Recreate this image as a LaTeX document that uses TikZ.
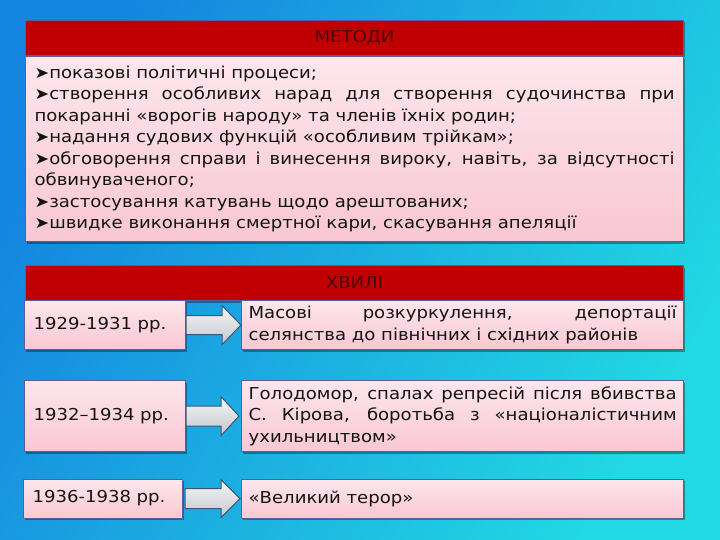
\documentclass[tikz,border=0pt]{standalone}
\usepackage{fontspec}
\setmainfont{DejaVu Sans}[FakeStretch=1.1]
\usetikzlibrary{shadows,calc}
\definecolor{bgA}{HTML}{1586E0}
\definecolor{bgB}{HTML}{22D8E2}
\definecolor{hdr}{HTML}{C00000}
\definecolor{hdrtxt}{HTML}{4A0808}
\definecolor{bordc}{HTML}{5A5E9E}
\definecolor{pinkA}{HTML}{FDE6EC}
\definecolor{pinkB}{HTML}{F9C7D4}
\definecolor{arrA}{HTML}{F6F6F6}
\definecolor{arrB}{HTML}{C2C8CE}
\definecolor{arrline}{HTML}{3E5578}
\definecolor{txt}{HTML}{141414}
\newcommand\mybul{{\fontsize{16}{16}\selectfont ➤}}
\begin{document}
\begin{tikzpicture}[x=1bp,y=-1bp,
  shadowed/.style={drop shadow={shadow xshift=1bp, shadow yshift=-2bp, opacity=0.35, fill=black}},
  hdrbox/.style={rectangle, draw=bordc, line width=1bp, fill=hdr, text=hdrtxt, anchor=north west, inner sep=0pt, font=\fontsize{16.5}{18}\selectfont, shadowed},
  pinkbox/.style={rectangle, draw=bordc, line width=1.2bp, top color=pinkA, bottom color=pinkB, anchor=north west, inner xsep=9bp, inner ysep=0pt, text=txt, font=\fontsize{16.5}{21.6}\selectfont, shadowed},
  justbox/.style={pinkbox, align=justify},
  leftbox/.style={pinkbox, align=left},
  blockarrow/.style={draw=arrline, line width=1bp, top color=arrA, bottom color=arrB, line join=miter},
]
\useasboundingbox (0,0) rectangle (720,540);
\shade[top color=bgA, bottom color=bgB, shading angle=60] (0,0) rectangle (720,540);

% METHODS
\node[hdrbox, minimum width=658bp, minimum height=35bp] (mh) at (25,20) {МЕТОДИ};
\node[justbox, text width=640bp, minimum height=185bp] (mb) at (mh.south west) {%
\mybul показові політичні процеси;\\
\mybul створення особливих нарад для створення судочинства при\linebreak покаранні «ворогів народу» та членів їхніх родин;\\
\mybul надання судових функцій «особливим трійкам»;\\
\mybul обговорення справи і винесення вироку, навіть, за відсутності\linebreak обвинуваченого;\\
\mybul застосування катувань щодо арештованих;\\
\mybul швидке виконання смертної кари, скасування апеляції};

% WAVES
\node[hdrbox, minimum width=658bp, minimum height=35bp] (wh) at (25,265) {ХВИЛІ};

\node[leftbox, text width=143bp, minimum height=49bp] (l1) at (24,300) {1929-1931 рр.};
\node[justbox, inner xsep=7bp, text width=428bp, minimum height=49bp] (r1) at (241,300) {Масові розкуркулення, депортації\linebreak селянства до північних і східних районів};

\node[leftbox, text width=143bp, minimum height=71bp] (l2) at (24,380) {1932–1934 рр.};
\node[justbox, inner xsep=7bp, text width=428bp, minimum height=71bp] (r2) at (241,380) {Голодомор, спалах репресій після вбивства\linebreak С. Кірова, боротьба з «націоналістичним\linebreak ухильництвом»};

\node[leftbox, text width=141bp, minimum height=39bp] (l3) at (23,478.5) {1936-1938 рр.};
\node[justbox, inner xsep=7bp, text width=428bp, minimum height=39bp] (r3) at (241,478.5) {«Великий терор»};

% arrows
\draw[blockarrow] ($(l1.east)+(0,-9.5)$) -- ($(r1.west)+(-19,-9.5)$) -- ($(r1.west)+(-19,-19.5)$) -- (r1.west) -- ($(r1.west)+(-19,19.5)$) -- ($(r1.west)+(-19,9.5)$) -- ($(l1.east)+(0,9.5)$) -- cycle;
\draw[blockarrow] ($(l2.east)+(0,-10)$) -- ($(r2.west)+(-20,-10)$) -- ($(r2.west)+(-20,-19.5)$) -- ($(r2.west)+(-2,0)$) -- ($(r2.west)+(-20,19.5)$) -- ($(r2.west)+(-20,10)$) -- ($(l2.east)+(0,10)$) -- cycle;
\draw[blockarrow] ($(l3.east)+(2,-10)$) -- ($(r3.west)+(-20,-10)$) -- ($(r3.west)+(-20,-19)$) -- ($(r3.west)+(-1,0)$) -- ($(r3.west)+(-20,19)$) -- ($(r3.west)+(-20,10)$) -- ($(l3.east)+(2,10)$) -- cycle;
\end{tikzpicture}
\end{document}
